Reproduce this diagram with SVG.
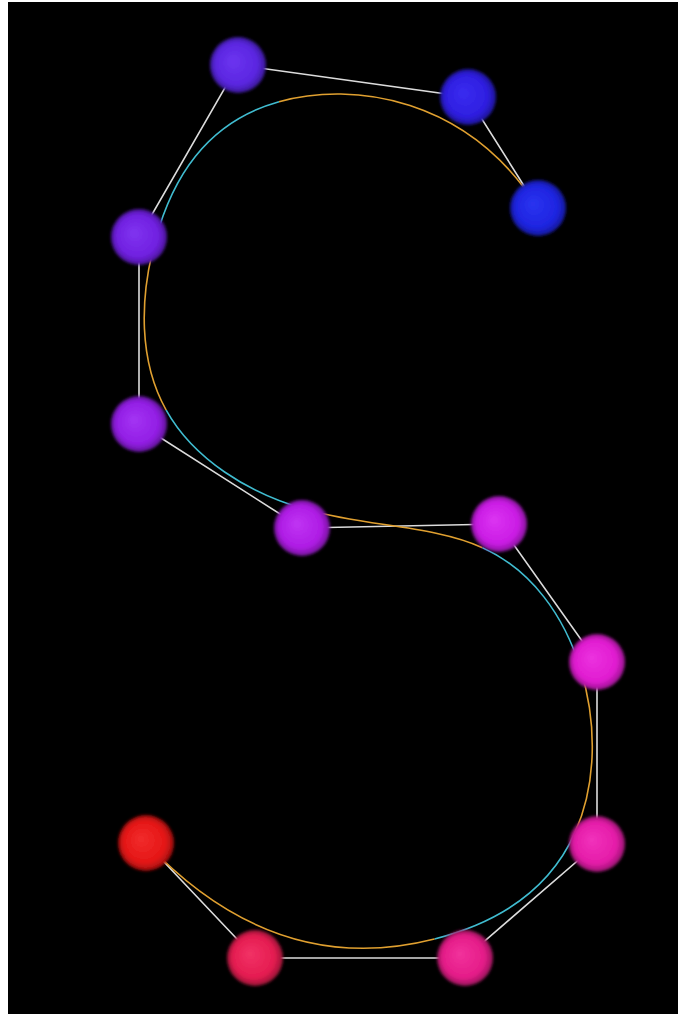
<svg xmlns="http://www.w3.org/2000/svg" width="678" height="1014" viewBox="0 0 678 1014">
  <style>
    .poly { stroke: #dcdcdc; stroke-width: 1.6; fill: none; }
    .orange { stroke: #e0a030; stroke-width: 1.6; fill: none; }
    .cyan { stroke: #40bcd0; stroke-width: 1.6; fill: none; }
  </style>
  <defs>
    <filter id="soft" x="-20%" y="-20%" width="140%" height="140%">
      <feGaussianBlur stdDeviation="1.8"/>
    </filter>
    <radialGradient id="g1" cx="0.5" cy="0.5" r="0.5" fx="0.4" fy="0.42"><stop offset="0" stop-color="#6c34f0"/><stop offset="0.75" stop-color="#5a26e0"/><stop offset="1" stop-color="#3a1898"/></radialGradient>
    <radialGradient id="g2" cx="0.5" cy="0.5" r="0.5" fx="0.4" fy="0.42"><stop offset="0" stop-color="#3a2cf0"/><stop offset="0.75" stop-color="#2e1ee0"/><stop offset="1" stop-color="#1e1498"/></radialGradient>
    <radialGradient id="g3" cx="0.5" cy="0.5" r="0.5" fx="0.4" fy="0.42"><stop offset="0" stop-color="#2a34f0"/><stop offset="0.75" stop-color="#1e24e0"/><stop offset="1" stop-color="#141898"/></radialGradient>
    <radialGradient id="g4" cx="0.5" cy="0.5" r="0.5" fx="0.4" fy="0.42"><stop offset="0" stop-color="#8034f0"/><stop offset="0.75" stop-color="#7020e0"/><stop offset="1" stop-color="#4a1498"/></radialGradient>
    <radialGradient id="g5" cx="0.5" cy="0.5" r="0.5" fx="0.4" fy="0.42"><stop offset="0" stop-color="#a434f4"/><stop offset="0.75" stop-color="#921ee4"/><stop offset="1" stop-color="#62149a"/></radialGradient>
    <radialGradient id="g6" cx="0.5" cy="0.5" r="0.5" fx="0.4" fy="0.42"><stop offset="0" stop-color="#c034f4"/><stop offset="0.75" stop-color="#ae1ce4"/><stop offset="1" stop-color="#74129a"/></radialGradient>
    <radialGradient id="g7" cx="0.5" cy="0.5" r="0.5" fx="0.4" fy="0.42"><stop offset="0" stop-color="#dc34f2"/><stop offset="0.75" stop-color="#ca1ce4"/><stop offset="1" stop-color="#86129a"/></radialGradient>
    <radialGradient id="g8" cx="0.5" cy="0.5" r="0.5" fx="0.4" fy="0.42"><stop offset="0" stop-color="#ec32e0"/><stop offset="0.75" stop-color="#e01cd0"/><stop offset="1" stop-color="#96128c"/></radialGradient>
    <radialGradient id="g9" cx="0.5" cy="0.5" r="0.5" fx="0.4" fy="0.42"><stop offset="0" stop-color="#f232bc"/><stop offset="0.75" stop-color="#e41ca8"/><stop offset="1" stop-color="#981270"/></radialGradient>
    <radialGradient id="g10" cx="0.5" cy="0.5" r="0.5" fx="0.4" fy="0.42"><stop offset="0" stop-color="#f2329c"/><stop offset="0.75" stop-color="#e41c88"/><stop offset="1" stop-color="#98125a"/></radialGradient>
    <radialGradient id="g11" cx="0.5" cy="0.5" r="0.5" fx="0.4" fy="0.42"><stop offset="0" stop-color="#f23266"/><stop offset="0.75" stop-color="#e41c50"/><stop offset="1" stop-color="#981236"/></radialGradient>
    <radialGradient id="g12" cx="0.5" cy="0.5" r="0.5" fx="0.4" fy="0.42"><stop offset="0" stop-color="#f22c2c"/><stop offset="0.75" stop-color="#e41616"/><stop offset="1" stop-color="#980e0e"/></radialGradient>
  </defs>

  <rect x="0" y="0" width="678" height="1014" fill="#ffffff"/>
  <rect x="8" y="2" width="670" height="1012" fill="#000000"/>

  <g id="connectors">
    <g id="control-polygon">
      <polyline class="poly" points="538,208 468,97 238,65 139,237 139,424 302,528 499,524 597,662 597,844 465,958 255,958 146,843"/>
    </g>
    <g id="curve">
      <path class="orange" d="M538,208 C468,97 353,81 279,101.67"/>
      <path class="cyan" d="M279,101.67 C205,122.33 172,179.67 155.5,239.5"/>
      <path class="orange" d="M155.5,239.5 C139,299.33 139,361.67 166.17,410.17"/>
      <path class="cyan" d="M166.17,410.17 C193.33,458.67 247.67,493.33 307.67,510"/>
      <path class="orange" d="M307.67,510 C367.67,526.67 433.33,525.33 482.5,547.67"/>
      <path class="cyan" d="M482.5,547.67 C531.67,570 564.33,616 580.67,669.33"/>
      <path class="orange" d="M580.67,669.33 C597,722.67 597,783.33 575,832.67"/>
      <path class="cyan" d="M575,832.67 C553,882 509,920 434.5,939"/>
      <path class="orange" d="M434.5,939 C360,958 255,958 146,843"/>
    </g>
  </g>

  <g id="spheres" filter="url(#soft)">
    <g id="node1"><circle cx="238" cy="65" r="28" fill="url(#g1)"/></g>
    <g id="node2"><circle cx="468" cy="97" r="28" fill="url(#g2)"/></g>
    <g id="node3"><circle cx="538" cy="208" r="28" fill="url(#g3)"/></g>
    <g id="node4"><circle cx="139" cy="237" r="28" fill="url(#g4)"/></g>
    <g id="node5"><circle cx="139" cy="424" r="28" fill="url(#g5)"/></g>
    <g id="node6"><circle cx="302" cy="528" r="28" fill="url(#g6)"/></g>
    <g id="node7"><circle cx="499" cy="524" r="28" fill="url(#g7)"/></g>
    <g id="node8"><circle cx="597" cy="662" r="28" fill="url(#g8)"/></g>
    <g id="node9"><circle cx="597" cy="844" r="28" fill="url(#g9)"/></g>
    <g id="node10"><circle cx="465" cy="958" r="28" fill="url(#g10)"/></g>
    <g id="node11"><circle cx="255" cy="958" r="28" fill="url(#g11)"/></g>
    <g id="node12"><circle cx="146" cy="843" r="28" fill="url(#g12)"/></g>
  </g>
</svg>
